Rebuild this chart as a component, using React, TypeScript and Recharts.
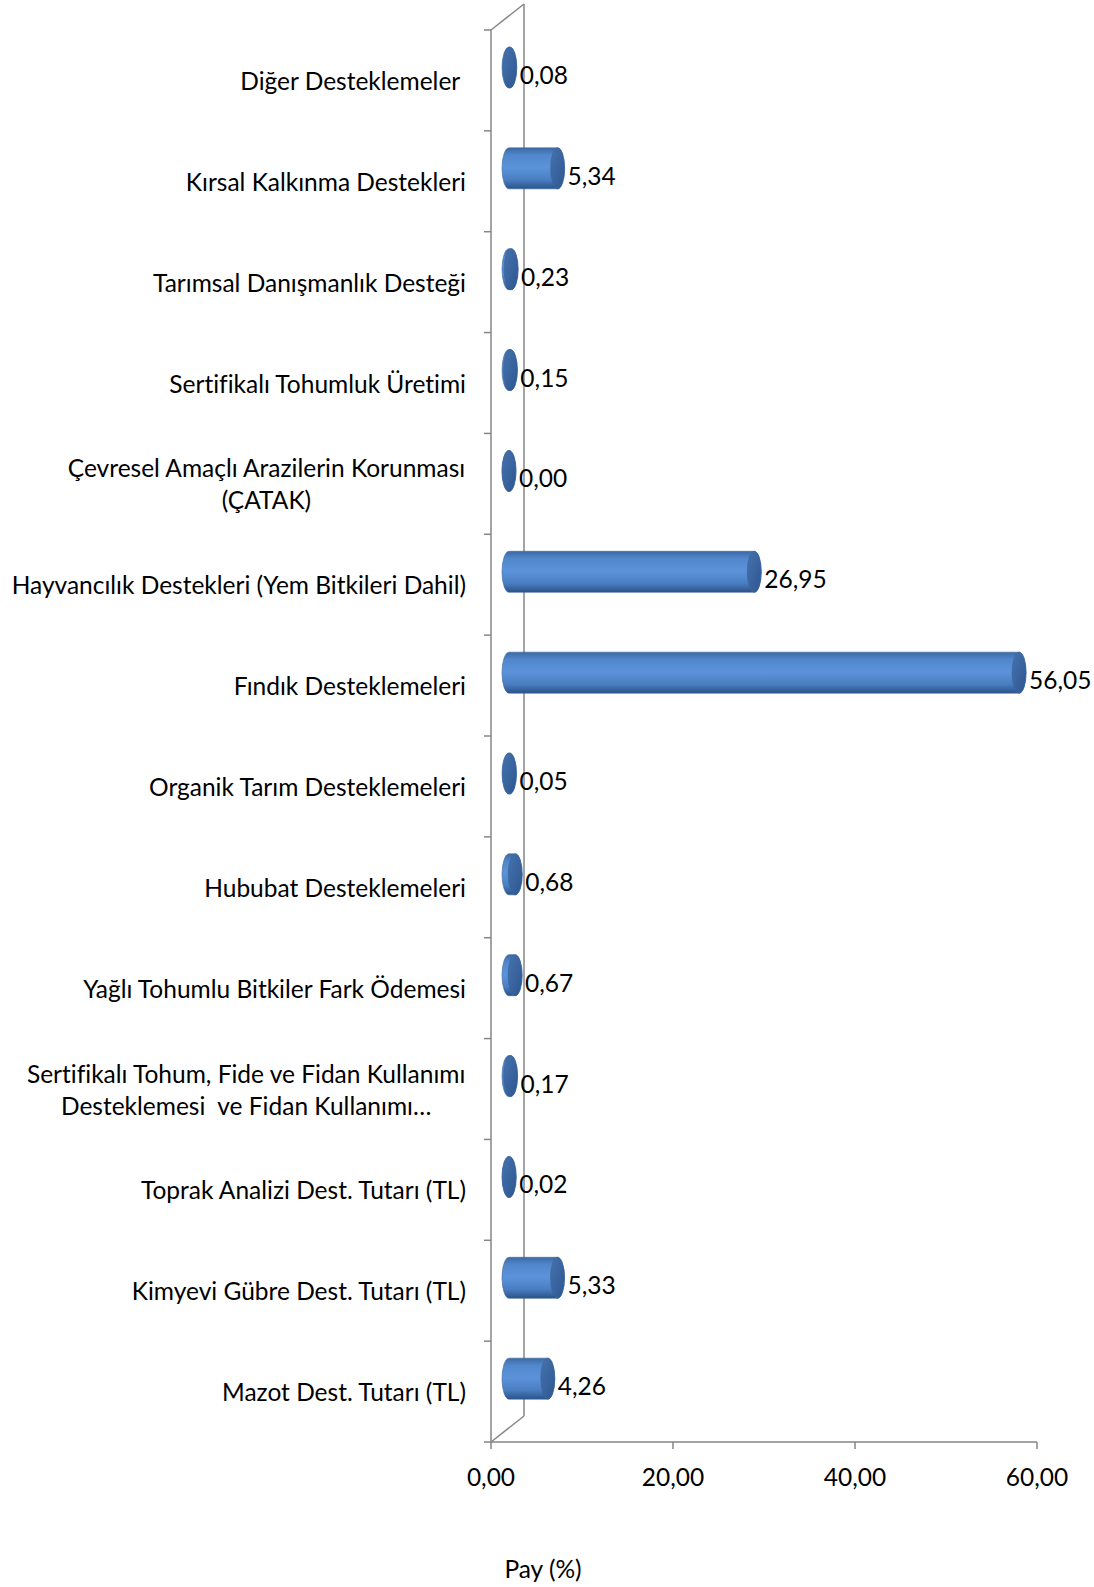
import { BarChart, Bar, XAxis, YAxis, ReferenceLine } from "recharts";

// categories top -> bottom, as drawn
const categories = [
  "Diğer Desteklemeler\u00a0",
  "Kırsal Kalkınma Destekleri",
  "Tarımsal Danışmanlık Desteği",
  "Sertifikalı Tohumluk Üretimi",
  "Çevresel Amaçlı Arazilerin Korunması\n(ÇATAK)",
  "Hayvancılık Destekleri (Yem Bitkileri Dahil)",
  "Fındık Desteklemeleri",
  "Organik Tarım Desteklemeleri",
  "Hububat Desteklemeleri",
  "Yağlı Tohumlu Bitkiler Fark Ödemesi",
  "Sertifikalı Tohum, Fide ve Fidan Kullanımı\nDesteklemesi  ve Fidan Kullanımı…",
  "Toprak Analizi Dest. Tutarı (TL)",
  "Kimyevi Gübre Dest. Tutarı (TL)",
  "Mazot Dest. Tutarı (TL)",
];
const shares = [0.08, 5.34, 0.23, 0.15, 0.0, 26.95, 56.05, 0.05, 0.68, 0.67, 0.17, 0.02, 5.33, 4.26];
const xTicks = [0, 20, 40, 60];
const axisTitle = "Pay (%)";

const data = categories.map((name, i) => ({ name, share: shares[i] }));

const FONT = "Lato, sans-serif";
const FONT_SIZE = 24.5;
const GRID = "#868686";
// 3d depth of the wall, bars sit half way in
const WALL_DX = 33;
const WALL_DY = -26;
const BAR_DX = 18;
const BAR_DY = -13;
const RX = 7;

const textStyle = { whiteSpace: "pre", fontVariantLigatures: "none" } as const;

const fmt = (v: number) => v.toFixed(2).replace(".", ",");

let ctx: CanvasRenderingContext2D | null = null;
function measure(s: string) {
  if (!ctx) ctx = document.createElement("canvas").getContext("2d");
  if (!ctx) return s.length * 10;
  ctx.font = `${FONT_SIZE}px Lato`;
  return ctx.measureText(s).width;
}

function CategoryTick(props: any) {
  const { x, y, payload, index } = props;
  const half = payload.offset || 50;
  const lines = String(payload.value).split("\n");
  const right = x - 25;
  const lineH = 32;
  let content;
  if (lines.length === 1) {
    content = (
      <text x={right} y={y} textAnchor="end" dominantBaseline="central" style={textStyle}>
        {lines[0]}
      </text>
    );
  } else {
    const w = Math.max(...lines.map(measure));
    const cx = right - w / 2;
    content = lines.map((l, i) => (
      <text
        key={i}
        x={cx}
        y={y + (i - (lines.length - 1) / 2) * lineH}
        textAnchor="middle"
        dominantBaseline="central"
        style={textStyle}
      >
        {l}
      </text>
    ));
  }
  return (
    <g fontFamily={FONT} fontSize={FONT_SIZE} fill="#000">
      <line x1={x - 7} y1={y - half} x2={x} y2={y - half} stroke={GRID} strokeWidth={1.5} />
      {index === categories.length - 1 && (
        <line x1={x - 7} y1={y + half} x2={x} y2={y + half} stroke={GRID} strokeWidth={1.5} />
      )}
      {content}
    </g>
  );
}

function ValueTick(props: any) {
  const { x, y, payload } = props;
  return (
    <text x={x} y={y + 25} textAnchor="middle" dominantBaseline="central" fontFamily={FONT} fontSize={FONT_SIZE} fill="#000">
      {fmt(payload.value)}
    </text>
  );
}

function BackWall(props: any) {
  const { x1, y1, y2 } = props;
  const top = Math.min(y1, y2);
  const bottom = Math.max(y1, y2);
  return (
    <g stroke={GRID} strokeWidth={1.5} fill="none">
      <line x1={x1} y1={top} x2={x1 + WALL_DX} y2={top + WALL_DY} />
      <line x1={x1 + WALL_DX} y1={top + WALL_DY} x2={x1 + WALL_DX} y2={bottom + WALL_DY} />
      <line x1={x1 + WALL_DX} y1={bottom + WALL_DY} x2={x1} y2={bottom} />
    </g>
  );
}

function Cylinder(props: any) {
  const { x, y, width, height, payload } = props;
  const x0 = x + BAR_DX;
  const x1 = x0 + Math.max(0, width);
  const top = y + BAR_DY;
  const bottom = top + height;
  const mid = top + height / 2;
  const ry = height / 2;
  const body = `M${x0},${top} L${x1},${top} A${RX},${ry} 0 0 1 ${x1},${bottom} L${x0},${bottom} A${RX},${ry} 0 0 1 ${x0},${top} Z`;
  return (
    <g>
      <path d={body} fill="url(#cylBody)" stroke="#3a649c" strokeWidth={0.6} />
      <ellipse cx={x1} cy={mid} rx={RX} ry={ry} fill="url(#cylCap)" stroke="#3a649c" strokeWidth={0.6} />
      <text x={x1 + RX + 3} y={mid + 7} dominantBaseline="central" fontFamily={FONT} fontSize={FONT_SIZE} fill="#000">
        {fmt(payload.share)}
      </text>
    </g>
  );
}

export default function App() {
  return (
    <div style={{ position: "absolute", left: 0, top: 0, background: "#fff" }}>
      <BarChart
        width={1094}
        height={1587}
        data={data}
        layout="vertical"
        margin={{ top: 30, right: 57, left: 0, bottom: 0 }}
        barSize={41}
      >
        <defs>
          <linearGradient id="cylBody" x1="0" y1="0" x2="0" y2="1">
            <stop offset="0%" stopColor="#3d69a3" />
            <stop offset="18%" stopColor="#5187cc" />
            <stop offset="48%" stopColor="#5b93da" />
            <stop offset="78%" stopColor="#4a7ec2" />
            <stop offset="100%" stopColor="#2b5288" />
          </linearGradient>
          <linearGradient id="cylCap" x1="0" y1="0" x2="1" y2="1">
            <stop offset="0%" stopColor="#4673ae" />
            <stop offset="100%" stopColor="#2d5690" />
          </linearGradient>
        </defs>
        <XAxis
          type="number"
          domain={[0, 60]}
          ticks={xTicks}
          height={145}
          tickSize={7}
          axisLine={{ stroke: GRID, strokeWidth: 1.5 }}
          tickLine={{ stroke: GRID, strokeWidth: 1.5 }}
          tick={<ValueTick />}
          label={{
            content: (p: any) => (
              <text
                x={p.viewBox.x + 52}
                y={p.viewBox.y + 126}
                textAnchor="middle"
                dominantBaseline="central"
                fontFamily={FONT}
                fontSize={FONT_SIZE}
                fill="#000"
              >
                {axisTitle}
              </text>
            ),
          }}
        />
        <YAxis
          type="category"
          dataKey="name"
          width={491}
          interval={0}
          tickSize={0}
          tickMargin={0}
          tickLine={false}
          axisLine={{ stroke: GRID, strokeWidth: 1.5 }}
          tick={<CategoryTick />}
        />
        <ReferenceLine x={0} shape={<BackWall />} zIndex={-10} />
        <Bar dataKey="share" shape={<Cylinder />} isAnimationActive={false} />
      </BarChart>
    </div>
  );
}
